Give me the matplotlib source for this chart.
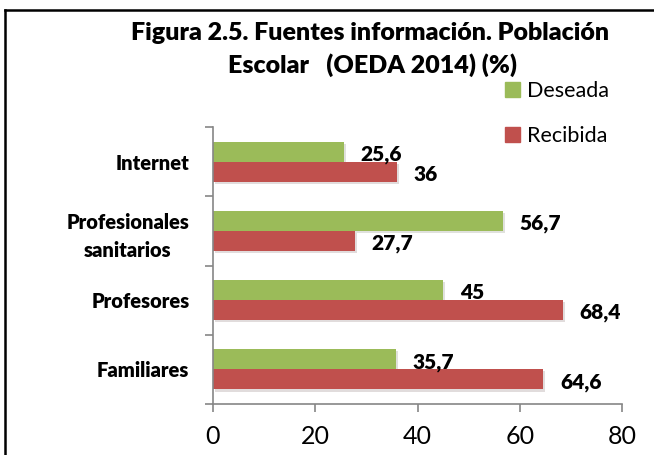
import numpy as np
import matplotlib
matplotlib.use("Agg")
import matplotlib.pyplot as plt
import matplotlib.patheffects as pe
from matplotlib.lines import Line2D
from matplotlib.patches import Patch

plt.rcParams["font.family"] = ["Lato", "DejaVu Sans"]

categories = ["Internet", "Profesionales\nsanitarios", "Profesores", "Familiares"]
deseada = [25.6, 56.7, 45, 35.7]
recibida = [36, 27.7, 68.4, 64.6]
deseada_txt = ["25,6", "56,7", "45", "35,7"]
recibida_txt = ["36", "27,7", "68,4", "64,6"]

green = "#9BBB59"
red = "#C0504D"
grey = "#868686"

W, H = 654, 455
fig = plt.figure(figsize=(W / 100, H / 100), dpi=100)
ax = fig.add_axes([213 / W, 1 - 404 / H, (622 - 213) / W, (404 - 127) / H])

# Internet at the top
ypos = np.arange(len(categories))[::-1]
h = 0.29
shadow = [pe.SimplePatchShadow(offset=(1.5, -1.5), alpha=0.15), pe.Normal()]
ax.barh(ypos + h / 2, deseada, height=h, color=green, path_effects=shadow)
ax.barh(ypos - h / 2, recibida, height=h, color=red, path_effects=shadow)

for y, v, t in zip(ypos, deseada, deseada_txt):
    ax.text(v + 3.3, y + h / 2 - 0.04, t, ha="left", va="center",
            fontsize=15, fontweight="heavy")
for y, v, t in zip(ypos, recibida, recibida_txt):
    ax.text(v + 3.3, y - h / 2 - 0.04, t, ha="left", va="center",
            fontsize=15, fontweight="heavy")

ax.set_xlim(0, 80)
ax.set_ylim(-0.5, len(categories) - 0.5)
ax.set_xticks([0, 20, 40, 60, 80])
ax.tick_params(axis="x", labelsize=18, length=6, color=grey, width=1.2, pad=9)
ax.set_yticks(np.arange(-0.5, len(categories), 1.0))
ax.set_yticklabels([])
ax.tick_params(axis="y", which="major", length=6, color=grey, width=1.2)
ax.set_yticks(ypos, minor=True)
ax.set_yticklabels(categories, minor=True, fontsize=14.5, fontweight="heavy")
ax.tick_params(axis="y", which="minor", length=0, pad=17)
for lab in ax.get_yticklabels(minor=True):
    lab.set_multialignment("center")
    lab.set_linespacing(1.55)

for s in ["top", "right"]:
    ax.spines[s].set_visible(False)
for s in ["left", "bottom"]:
    ax.spines[s].set_color(grey)
    ax.spines[s].set_linewidth(1.2)

fig.text(370 / W, 1 - 33 / H, "Figura 2.5. Fuentes información. Población",
         ha="center", va="center", fontsize=18, fontweight="heavy")
fig.text(372 / W, 1 - 65 / H, "Escolar   (OEDA 2014) (%)",
         ha="center", va="center", fontsize=18, fontweight="heavy")

handles = [Patch(color=green, label="Deseada"), Patch(color=red, label="Recibida")]
fig.legend(handles=handles, loc="upper left", bbox_to_anchor=(505 / W, 1 - 81 / H),
           frameon=False, fontsize=15.5, handlelength=0.7, handleheight=0.7,
           handletextpad=0.3, labelspacing=1.15, borderaxespad=0, borderpad=0)

# outer frame of the chart area
fig.add_artist(Line2D([5 / W, 1], [1 - 10 / H, 1 - 10 / H], color="black", lw=1.8))
fig.add_artist(Line2D([5 / W, 5 / W], [0, 1 - 10 / H], color="black", lw=1.8))

fig.savefig("out.png", dpi=100)
